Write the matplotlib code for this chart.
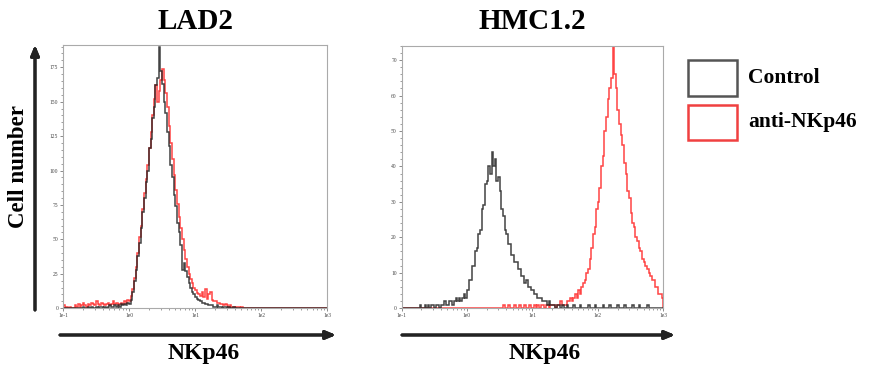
import numpy as np
import matplotlib.pyplot as plt
from matplotlib.patches import Rectangle
from matplotlib.ticker import MultipleLocator, LogLocator, NullFormatter

plt.rcParams['font.family'] = ['Liberation Serif', 'DejaVu Serif']

# histogram channels: 40 bins per decade from 1e-1 to 1e3
N_BINS = 160
x_ticks = [1e-1, 1e0, 1e1, 1e2, 1e3]
x_tick_labels = ['1e-1', '1e0', '1e1', '1e2', '1e3']

titles = ['LAD2', 'HMC1.2']
series_names = ['Control', 'anti-NKp46']

# counts, stored as (first bin index, values)
lad2_control_start = 12
lad2_control = [1, 0, 0, 1, 0, 1, 0, 0, 1, 0, 1, 1, 0, 1, 0, 1, 2, 1, 1, 2, 1, 2, 1, 3, 2, 3, 2, 4,
                3, 6, 12, 20, 28, 38, 47, 58, 70, 80, 92, 100, 116, 123, 138, 146, 162, 167, 190, 172,
                163, 150, 142, 128, 118, 104, 95, 82, 74, 62, 55, 46, 28, 33, 27, 23, 18, 15, 12, 10,
                8, 7, 6, 5, 4, 4, 3, 3, 2, 2, 2, 1, 1, 2, 1, 1, 0, 1, 1, 0, 1, 0, 0, 1]
lad2_anti_start = 0
lad2_anti = [2, 0, 1, 0, 1, 0, 0, 2, 1, 3, 1, 2, 4, 2, 1, 3, 2, 4, 3, 2, 5, 3, 2, 4, 3, 2, 3, 4,
             2, 3, 5, 3, 4, 2, 3, 4, 3, 5, 4, 6,
             5, 9, 14, 22, 30, 40, 52, 60, 72, 84, 94, 104, 116, 128, 140, 152, 162, 150, 158, 166,
             174, 166, 156, 146, 132, 120, 108, 97, 86, 76, 66, 58, 50, 42, 36, 30, 25, 21, 18, 15,
             13, 11, 10, 9, 12, 8, 14, 7, 10, 12, 6, 5, 5, 4, 4, 3, 3, 2, 3, 2, 1, 2, 1, 1, 0, 1,
             1, 0, 1]
hmc_control_start = 10
hmc_control = [0, 1, 0, 0, 1, 0, 1, 0, 1, 1, 0, 1, 1, 0, 1, 1, 2, 1,
               1, 2, 2, 1, 2, 3, 2, 3, 2, 3, 4, 3,
               5, 8, 8, 12, 12, 16, 17, 21, 22, 28, 29, 35, 36, 40, 38, 44, 40, 42, 36, 37,
               33, 28, 26, 22, 21, 18, 18, 15, 15, 13, 13, 11, 11, 9, 9, 7, 8, 6, 6, 5,
               5, 4, 4, 3, 3, 3, 2, 2, 2, 1, 2, 1, 1, 1, 0, 1, 1, 0, 1, 0, 0, 1, 0, 0,
               0, 1, 0, 0, 0, 1, 0, 0, 0, 0, 1, 0, 0, 0, 1, 0, 0, 0, 0, 1, 0, 0, 0, 1, 0, 0,
               0, 0, 1, 0, 0, 0, 1, 0, 0, 0, 0, 1, 0, 0, 0, 1, 0, 0, 0, 0, 1, 0, 0, 0]
hmc_anti_start = 60
hmc_anti = [0, 0, 1, 0, 0, 1, 0, 0, 0, 1, 0, 0, 1, 0, 0, 1, 0, 0, 1, 0,
            0, 1, 0, 1, 0, 1, 1, 0, 1, 1, 0, 1, 1, 1, 0, 1, 1, 2, 1, 1,
            1, 2, 2, 3, 2, 3, 4, 3, 5, 4, 6, 7, 8, 10, 11, 14, 17, 21, 23, 28,
            30, 34, 40, 43, 50, 54, 59, 62, 65, 76, 66, 62, 56, 52, 49, 46, 41, 38, 33, 31,
            27, 24, 23, 20, 19, 17, 16, 14, 13, 12, 11, 10, 9, 8, 8, 6, 6, 4, 4, 3]

panels = [
    (lad2_control_start, lad2_control, lad2_anti_start, lad2_anti, 191, 25, 5),
    (hmc_control_start, hmc_control, hmc_anti_start, hmc_anti, 74, 10, 2),
]


def full_counts(start, vals):
    c = np.zeros(N_BINS)
    c[start:start + len(vals)] = vals
    return c


edges = np.logspace(-1, 3, N_BINS + 1)

fig = plt.figure(figsize=(8.75, 3.8), dpi=100)
ax_pos = [[0.072, 0.189, 0.302, 0.692], [0.459, 0.189, 0.299, 0.690]]

for k, (cs, cv, ans, av, ymax, ymaj, ymin) in enumerate(panels):
    ax = fig.add_axes(ax_pos[k])
    ax.stairs(full_counts(ans, av), edges, color='#ff3030', linewidth=1.1, alpha=0.9)
    ax.stairs(full_counts(cs, cv), edges, color='#222222', linewidth=1.1, alpha=0.85)
    ax.set_xscale('log')
    ax.set_xlim(1e-1, 1e3)
    ax.set_ylim(0, ymax)
    ax.set_xticks(x_ticks)
    ax.set_xticklabels(x_tick_labels)
    ax.xaxis.set_minor_locator(LogLocator(base=10, subs=np.arange(2, 10)))
    ax.xaxis.set_minor_formatter(NullFormatter())
    ax.yaxis.set_major_locator(MultipleLocator(ymaj))
    ax.yaxis.set_minor_locator(MultipleLocator(ymin))
    ax.tick_params(which='both', direction='out', colors='#777777', labelcolor='#444444',
                   labelsize=4, pad=1, top=False, right=False)
    ax.tick_params(which='major', length=2.5, width=0.6)
    ax.tick_params(which='minor', length=1.5, width=0.5)
    for sp in ax.spines.values():
        sp.set_color('#aaaaaa')
        sp.set_linewidth(0.8)
    ax.set_title(titles[k], fontsize=21, fontweight='bold', pad=12)

# axis arrows
arrow = dict(arrowstyle='-|>,head_length=0.6,head_width=0.25', color='#222222', lw=2.2,
             shrinkA=0, shrinkB=0)
fig.add_artist(plt.annotate('', xy=(35 / 875, 1 - 45 / 380), xytext=(35 / 875, 1 - 310 / 380),
                            xycoords='figure fraction', arrowprops=arrow))
for x0, x1, xc in [(60, 336, 204), (402, 675, 545)]:
    fig.add_artist(plt.annotate('', xy=(x1 / 875, 1 - 335 / 380), xytext=(x0 / 875, 1 - 335 / 380),
                                xycoords='figure fraction', arrowprops=arrow))
    fig.text(xc / 875, 1 - 353 / 380, 'NKp46', fontsize=17, fontweight='bold',
             ha='center', va='center')

fig.text(19 / 875, 1 - 167 / 380, 'Cell number', fontsize=16.5, fontweight='bold',
         rotation=90, ha='center', va='center')

# legend boxes
legend_colors = ['#555555', '#f04040']
box_y = [(60, 96), (105, 140)]
for name, col, (y0, y1) in zip(series_names, legend_colors, box_y):
    fig.patches.append(Rectangle((688 / 875, 1 - y1 / 380), 49 / 875, (y1 - y0) / 380,
                                 transform=fig.transFigure, fill=False, edgecolor=col, lw=1.8))
    fig.text(748 / 875, 1 - (y0 + y1) / 2 / 380, name, fontsize=15.5, fontweight='bold',
             ha='left', va='center')

fig.savefig('out.png', dpi=100)
